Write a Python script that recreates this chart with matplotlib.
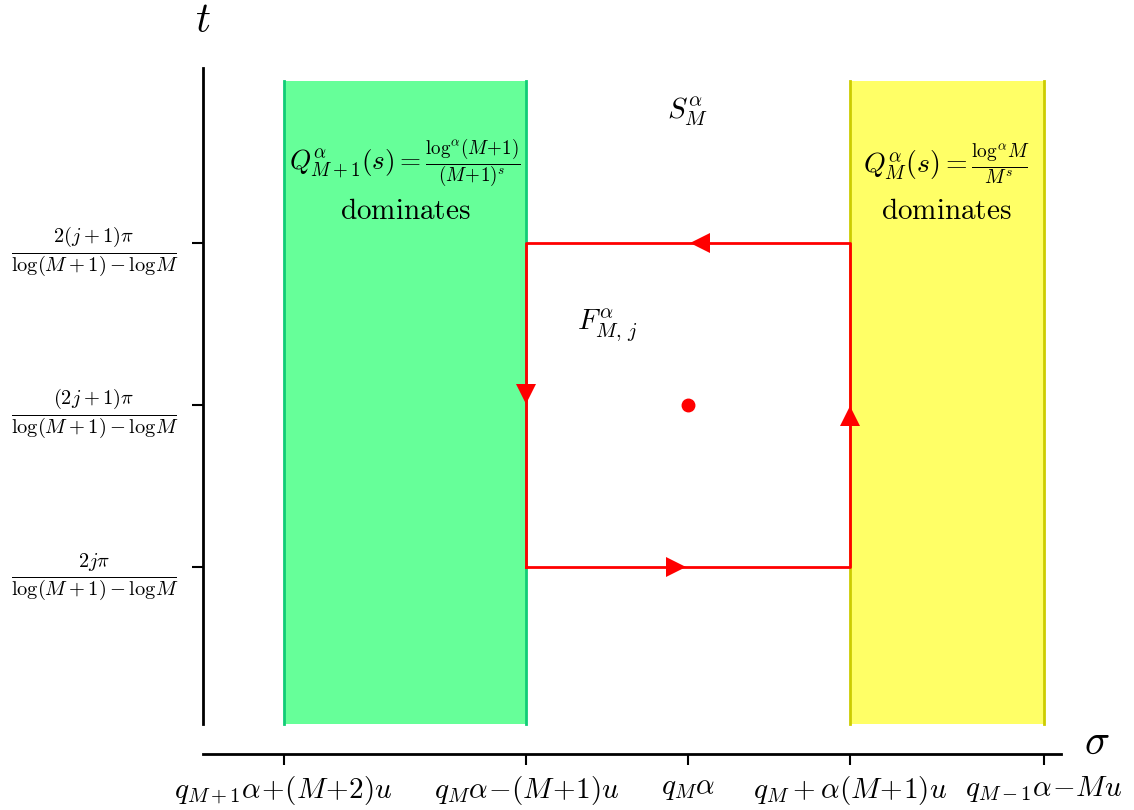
import matplotlib
matplotlib.use("Agg")
import matplotlib.pyplot as plt

plt.rcParams['mathtext.fontset'] = 'cm'
plt.rcParams['font.family'] = ['DejaVu Serif']

# ---------- data ----------
x_ticks = [-2.5, -1.0, 0.0, 1.0, 2.2]
x_labels = [r'$q_{M+1}\alpha\!+\!(M\!+\!2)u$', r'$q_M\alpha\!-\!(M\!+\!1)u$', r'$q_M\alpha$',
            r'$q_M+\alpha(M\!+\!1)u$', r'$q_{M-1}\alpha\!-\!Mu$']
y_ticks = [1.0, 2.0, 3.0]
y_labels = [r'$\frac{2j\pi}{\log(M+1)-\mathrm{log}M}$',
            r'$\frac{(2j+1)\pi}{\log(M+1)-\mathrm{log}M}$',
            r'$\frac{2(j+1)\pi}{\log(M+1)-\mathrm{log}M}$']
green_band = (-2.5, -1.0)
yellow_band = (1.0, 2.2)
band_t = (0.03, 4.0)
box_x = [-1.0, 1.0, 1.0, -1.0, -1.0]
box_y = [1.0, 1.0, 3.0, 3.0, 1.0]
# arrow heads on the contour: (x, y, marker)
arrows = [(-0.075, 1.0, '>'), (1.0, 1.93, '^'), (0.075, 3.0, '<'), (-1.0, 2.07, 'v')]
center = (0.0, 2.0)

# ---------- figure ----------
fig = plt.figure(figsize=(11.34, 8.10), dpi=100)
ax = fig.add_axes([0.179, 0.069, 0.757, 0.847])
ax.set_xlim(-3.0, 2.31)
ax.set_ylim(-0.154, 4.08)

ax.fill_between(green_band, band_t[0], band_t[1], color='#66ff99', lw=0)
ax.fill_between(yellow_band, band_t[0], band_t[1], color='#ffff66', lw=0)
for xb in green_band:
    ax.plot([xb, xb], band_t, color='#11cc77', lw=2)
for xb in yellow_band:
    ax.plot([xb, xb], band_t, color='#cccc00', lw=2)

ax.plot(box_x, box_y, color='red', lw=2)
for xa, ya, m in arrows:
    ax.plot(xa, ya, marker=m, color='red', ms=14, mew=0)
ax.plot(*center, 'o', color='red', ms=9)

ax.text(0.0, 3.81, r'$S_M^{\alpha}$', fontsize=21, ha='center', va='center')
ax.text(-0.5, 2.49, r'$F_{M,\,j}^{\alpha}$', fontsize=21, ha='center', va='center')
ax.text(-1.75, 3.49, r'$Q_{M+1}^{\alpha}(s)=\frac{\mathrm{log}^{\alpha}(M\!+\!1)}{(M\!+\!1)^s}$',
        fontsize=19.5, ha='center', va='center')
ax.text(-1.75, 3.2, r'$\mathrm{dominates}$', fontsize=21, ha='center', va='center')
ax.text(1.6, 3.49, r'$Q_{M}^{\alpha}(s)=\frac{\mathrm{log}^{\alpha}M}{M^s}$', fontsize=20,
        ha='center', va='center')
ax.text(1.6, 3.2, r'$\mathrm{dominates}$', fontsize=21, ha='center', va='center')

ax.set_xticks(x_ticks)
ax.set_xticklabels(x_labels, fontsize=21)
ax.set_yticks(y_ticks)
ax.set_yticklabels(y_labels, fontsize=21)
ax.tick_params(axis='x', length=8, width=1.5, pad=6)
ax.tick_params(axis='y', length=8, width=1.5, pad=10)

for s in ['top', 'right']:
    ax.spines[s].set_visible(False)
ax.spines['left'].set_bounds(band_t[0], 4.08)
ax.spines['left'].set_linewidth(2)
ax.spines['bottom'].set_linewidth(2)

fig.text(203 / 1134, 1 - 20 / 810, r'$t$', fontsize=30, ha='center', va='center')
fig.text(1097 / 1134, 1 - 742 / 810, r'$\sigma$', fontsize=30, ha='center', va='center')

fig.savefig('out.png', dpi=100)
